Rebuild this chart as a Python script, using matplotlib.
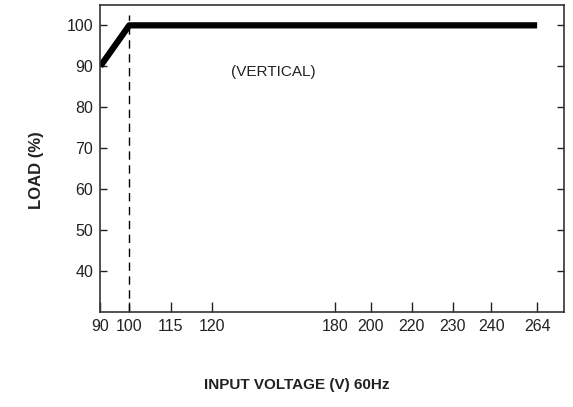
import matplotlib
matplotlib.use("Agg")
import matplotlib.pyplot as plt
import numpy as np

plt.rcParams['font.family'] = ['Liberation Sans', 'DejaVu Sans']

# Data: derating curve (input voltage vs load)
voltage = [90, 100, 264]
load = [90, 100, 100]

# x axis is not linear: tick values and where they sit along the axis
x_tick_vals = [90, 100, 115, 120, 180, 200, 220, 230, 240, 264]
x_tick_pos = [0.0, 29.0, 70.4, 111.4, 235.0, 270.7, 311.7, 352.4, 391.0, 437.0]
x_end = 463.7

y_ticks = [40, 50, 60, 70, 80, 90, 100]

def vpos(v):
    return np.interp(v, x_tick_vals, x_tick_pos)

fig = plt.figure(figsize=(5.73, 4.07), dpi=100)
ax = fig.add_axes([0.175, 0.234, 0.809, 0.754])

ax.plot(vpos(voltage), load, color='black', lw=4.5, solid_capstyle='butt')
ax.axvline(vpos(100), ymin=0, ymax=(102.6 - 30) / 75, color='black', lw=1,
           dashes=(6, 4))
ax.text(vpos(150), 88.7, '(VERTICAL)', ha='center', va='center', fontsize=11,
        color='#222222')

ax.set_xlim(0, x_end)
ax.set_ylim(30, 105)
ax.set_xticks(x_tick_pos)
ax.set_xticklabels([str(v) for v in x_tick_vals])
ax.set_yticks(y_ticks)

ax.tick_params(axis='x', direction='in', length=7, width=1, labelsize=11.5,
               colors='#222222', pad=5)
ax.tick_params(axis='y', direction='in', length=5, width=1, labelsize=11.5,
               colors='#222222', right=True, left=True, pad=5)
for s in ax.spines.values():
    s.set_color('#333333')
    s.set_linewidth(1.2)

fig.text(0.063, 0.582, 'LOAD (%)', rotation=90, ha='center', va='center',
         fontsize=12, fontweight='bold', color='#222222')
fig.text(0.518, 0.054, 'INPUT VOLTAGE (V) 60Hz', ha='center', va='center',
         fontsize=11, fontweight='bold', color='#222222')

fig.savefig('out.png', dpi=100)
